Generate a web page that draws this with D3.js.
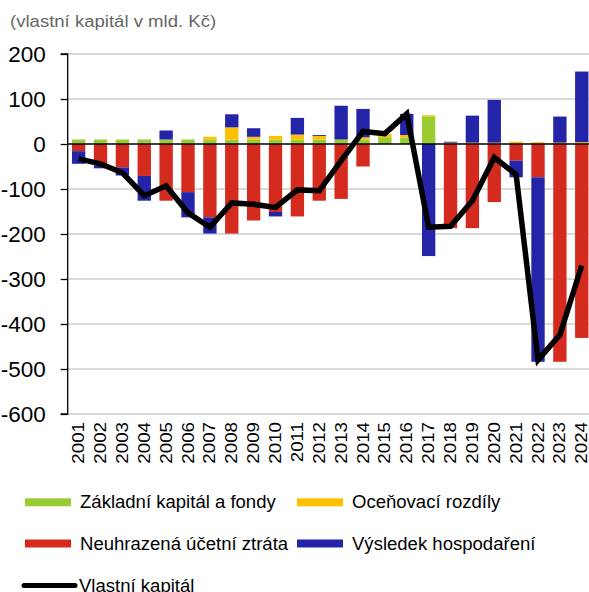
<!DOCTYPE html>
<html>
<head>
<meta charset="utf-8">
<script src="https://cdn.jsdelivr.net/npm/d3@7"></script>
<style>
    body { margin: 0; background: #ffffff; }
    svg { display: block; font-family: Arial, "Liberation Sans", sans-serif; }
</style>
</head>
<body>
<div id="chart_div"></div>
<script>
var years = ['2001', '2002', '2003', '2004', '2005', '2006', '2007', '2008', '2009', '2010', '2011', '2012',
    '2013', '2014', '2015', '2016', '2017', '2018', '2019', '2020', '2021', '2022', '2023', '2024'];

// Základní kapitál a fondy
var zakladni = [10, 10, 10, 10, 10, 10, 10, 10, 10, 10, 10, 10, 10, 10, 15, 14, 61, 0, 0, 0, 0, 0, 0, 0];
// Oceňovací rozdíly
var ocenovaci = [0, 0, 0, 0, 0, 0, 6, 27, 6, 8, 11, 8, 0, 5, 7, 6, 3, 3, 3, 3, 5, 4, 3, 4];
// Neuhrazená účetní ztráta
var ztrata = [-16, -48, -52, -71, -126, -107, -163, -199, -170, -151, -161, -126, -122, -50, 0, 0, 0, -187, -187, -129, -37, -74, -484, -431];
// Výsledek hospodaření
var vysledek = [-28, -6, -18, -55, 20, -56, -36, 29, 19, -10, 37, 2, 75, 63, 0, 47, -249, 2, 60, 95, -37, -410, 58, 157];
// Vlastní kapitál
var vlastni = [-33, -44, -64, -115, -93, -153, -185, -131, -134, -141, -102, -104, -37, 28, 23, 67, -185, -183, -126, -30, -68, -480, -424, -270];

var y_ticks = [200, 100, 0, -100, -200, -300, -400, -500, -600];

var series_info = [
    { key: 'zakladni', name: 'Základní kapitál a fondy', color: '#99cc33' },
    { key: 'ocenovaci', name: 'Oceňovací rozdíly', color: '#ffc000' },
    { key: 'ztrata', name: 'Neuhrazená účetní ztráta', color: '#d52b1e' },
    { key: 'vysledek', name: 'Výsledek hospodaření', color: '#2424a8' }
];
var line_name = 'Vlastní kapitál';

var width = 589;
var height = 592;
var plot = { left: 67.7, right: 592.7, top: 54, bottom: 414 };

var table = years.map(function(y, i) {
    return { year: y, zakladni: zakladni[i], ocenovaci: ocenovaci[i], ztrata: ztrata[i], vysledek: vysledek[i], vlastni: vlastni[i] };
});

var svg = d3.select('#chart_div')
    .append('svg')
    .attr('width', width)
    .attr('height', height);

var x = d3.scaleBand()
    .domain(years)
    .range([plot.left, plot.right])
    .paddingInner(0.39)
    .paddingOuter(0.195);

var y = d3.scaleLinear()
    .domain([-600, 200])
    .range([plot.bottom, plot.top]);

// title
svg.append('text')
    .attr('transform', 'translate(10, 27.3) scale(1.16, 1)')
    .attr('font-size', 16)
    .attr('fill', '#666666')
    .text('(vlastní kapitál v mld. Kč)');

// gridlines
svg.append('g')
    .selectAll('line')
    .data(y_ticks.filter(function(d) { return d !== 0; }))
    .enter()
    .append('line')
    .attr('x1', plot.left)
    .attr('x2', width)
    .attr('y1', function(d) { return y(d); })
    .attr('y2', function(d) { return y(d); })
    .attr('stroke', '#d9d9d9')
    .attr('stroke-width', 2);

// stacked bars
var stack = d3.stack()
    .keys(series_info.map(function(s) { return s.key; }))
    .offset(d3.stackOffsetDiverging);
var stacked = stack(table);

svg.append('g')
    .selectAll('g')
    .data(stacked)
    .enter()
    .append('g')
    .attr('fill', function(d, i) { return series_info[i].color; })
    .selectAll('rect')
    .data(function(d) { return d; })
    .enter()
    .append('rect')
    .attr('x', function(d) { return x(d.data.year); })
    .attr('width', x.bandwidth())
    .attr('y', function(d) { return y(Math.max(d[0], d[1])); })
    .attr('height', function(d) { return Math.abs(y(d[0]) - y(d[1])); });

// zero line
svg.append('line')
    .attr('x1', plot.left)
    .attr('x2', width)
    .attr('y1', y(0))
    .attr('y2', y(0))
    .attr('stroke', '#000000')
    .attr('stroke-width', 1.3);

// y axis
var y_axis = d3.axisLeft(y)
    .tickValues(y_ticks)
    .tickSize(7)
    .tickPadding(15)
    .tickFormat(function(d) { return String(d); }); // plain hyphen like the original

var y_group = svg.append('g')
    .attr('transform', `translate(${plot.left}, 0)`)
    .call(y_axis);
y_group.select('.domain')
    .attr('d', `M-7,${y(200)}H0V${y(-600)}H-7`)
    .attr('stroke', '#000000')
    .attr('stroke-width', 1.3);
y_group.selectAll('.tick line').attr('stroke', '#000000').attr('stroke-width', 1.3);
y_group.selectAll('.tick text')
    .attr('font-size', 22.5)
    .attr('font-family', 'Arial, "Liberation Sans", sans-serif')
    .attr('fill', '#000000');

// x labels (rotated)
svg.append('g')
    .selectAll('text')
    .data(years)
    .enter()
    .append('text')
    .attr('transform', function(d) {
        return `translate(${x(d) + x.bandwidth() / 2 + 5.5}, 422) rotate(-90) scale(1.17, 1)`;
    })
    .attr('text-anchor', 'end')
    .attr('font-size', 16)
    .attr('fill', '#000000')
    .text(function(d) { return d; });

// Vlastní kapitál line
var line = d3.line()
    .x(function(d) { return x(d.year) + x.bandwidth() / 2; })
    .y(function(d) { return y(d.vlastni); });

svg.append('path')
    .datum(table)
    .attr('d', line)
    .attr('fill', 'none')
    .attr('stroke', '#000000')
    .attr('stroke-width', 5.5)
    .attr('stroke-linejoin', 'miter');

// legend
var legend_data = [
    { name: series_info[0].name, color: series_info[0].color, x: 25, y: 508.3, type: 'rect' },
    { name: series_info[1].name, color: series_info[1].color, x: 297, y: 508.3, type: 'rect' },
    { name: series_info[2].name, color: series_info[2].color, x: 25, y: 549.5, type: 'rect' },
    { name: series_info[3].name, color: series_info[3].color, x: 297, y: 549.5, type: 'rect' },
    { name: line_name, color: '#000000', x: 22, y: 591.5, type: 'line' }
];

var legend = svg.append('g')
    .selectAll('g')
    .data(legend_data)
    .enter()
    .append('g');

legend.filter(function(d) { return d.type === 'rect'; })
    .append('rect')
    .attr('x', function(d) { return d.x; })
    .attr('y', function(d) { return d.y - 10; })
    .attr('width', 46)
    .attr('height', 8)
    .attr('fill', function(d) { return d.color; });

legend.filter(function(d) { return d.type === 'line'; })
    .append('line')
    .attr('x1', function(d) { return d.x + 2; })
    .attr('x2', function(d) { return d.x + 53; })
    .attr('y1', function(d) { return d.y - 6; })
    .attr('y2', function(d) { return d.y - 6; })
    .attr('stroke', '#000000')
    .attr('stroke-width', 5)
    .attr('stroke-linecap', 'round');

legend.append('text')
    .attr('transform', function(d) {
        var tx = d.type === 'line' ? d.x + 57 : d.x + 55;
        return `translate(${tx}, ${d.y}) scale(1.06, 1)`;
    })
    .attr('font-size', 17.5)
    .attr('fill', '#000000')
    .text(function(d) { return d.name; });
</script>
</body>
</html>
